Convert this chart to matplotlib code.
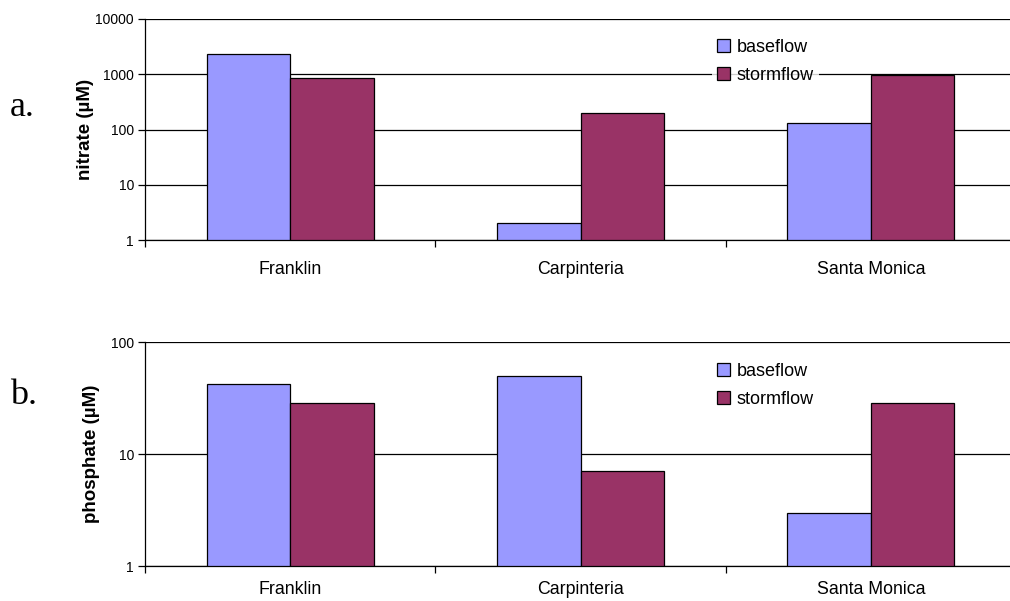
import matplotlib
matplotlib.use("Agg")
import matplotlib.pyplot as plt
import numpy as np
from matplotlib.ticker import FixedLocator, NullLocator

categories = ["Franklin", "Carpinteria", "Santa Monica"]
series_names = ["baseflow", "stormflow"]
nitrate_baseflow = [2300, 2, 130]
nitrate_stormflow = [850, 200, 960]
phosphate_baseflow = [42, 50, 3]
phosphate_stormflow = [28.5, 7, 28.5]
nitrate_ticks = [1, 10, 100, 1000, 10000]
phosphate_ticks = [1, 10, 100]

colors = ["#9999FF", "#993366"]
plt.rcParams['font.family'] = ['Liberation Sans', 'DejaVu Sans']

fig = plt.figure(figsize=(10.1, 6.01), dpi=100)

W, H = 1010, 601
AX_L, AX_R = 145, 1016
def axes_px(left, top, right, bottom):
    return fig.add_axes([left / W, 1 - bottom / H, (right - left) / W, (bottom - top) / H])

ax1 = axes_px(AX_L, 19, AX_R, 240)
ax2 = axes_px(AX_L, 342, AX_R, 566)

def draw(ax, base, storm, ticks, ylabel, ylabel_x, legend_anchor, panel, panel_y, xpad):
    x = np.arange(len(categories))
    w = 0.2876
    ax.bar(x - w / 2, base, w, color=colors[0], edgecolor="black", linewidth=0.9,
           label=series_names[0], zorder=3)
    ax.bar(x + w / 2, storm, w, color=colors[1], edgecolor="black", linewidth=0.9,
           label=series_names[1], zorder=3)
    ax.set_yscale("log")
    ax.set_ylim(ticks[0], ticks[-1])
    ax.set_xlim(-0.5, len(categories) - 0.5)
    ax.yaxis.set_major_locator(FixedLocator(ticks))
    ax.yaxis.set_minor_locator(NullLocator())
    ax.set_yticklabels([str(t) for t in ticks])
    ax.set_xticks(x)
    ax.set_xticklabels(categories, fontsize=12.8)
    ax.tick_params(axis="x", which="major", length=0, pad=xpad)
    ax.set_xticks(np.arange(len(categories) + 1) - 0.5, minor=True)
    ax.tick_params(axis="x", which="minor", length=5, width=0.9, direction="out")
    ax.tick_params(axis="y", which="major", length=5, width=0.9, direction="out", labelsize=10, pad=3)
    ax.grid(axis="y", which="major", color="black", linewidth=0.9, zorder=0)
    for s in ["top", "right"]:
        ax.spines[s].set_visible(False)
    ax.spines["left"].set_linewidth(0.9)
    ax.spines["bottom"].set_linewidth(0.9)
    ax.spines["bottom"].set_zorder(4)
    ax.set_ylabel(ylabel, fontsize=13.5, fontweight="bold")
    ax.yaxis.label.set_verticalalignment("center")
    ax.yaxis.set_label_coords((ylabel_x - AX_L) / (AX_R - AX_L), 0.5)
    leg = ax.legend(loc="center left", bbox_to_anchor=legend_anchor, bbox_transform=fig.transFigure,
                    frameon=True, fontsize=13, handlelength=0.7, handleheight=0.7,
                    handletextpad=0.35, labelspacing=0.62, borderpad=0.3, borderaxespad=0,
                    fancybox=False)
    leg.get_frame().set_edgecolor("none")
    leg.get_frame().set_facecolor("white")
    leg.set_zorder(5)
    fig.text(10 / W, 1 - panel_y / H, panel, fontsize=26, family="Liberation Serif", va="center", ha="left")

draw(ax1, nitrate_baseflow, nitrate_stormflow, nitrate_ticks, "nitrate (µM)", 85,
     (712 / W, 1 - 61.5 / H), "a.", 107, 15)
draw(ax2, phosphate_baseflow, phosphate_stormflow, phosphate_ticks, "phosphate (µM)", 92,
     (712 / W, 1 - 385.5 / H), "b.", 396, 11)

fig.savefig("out.png", dpi=100)
